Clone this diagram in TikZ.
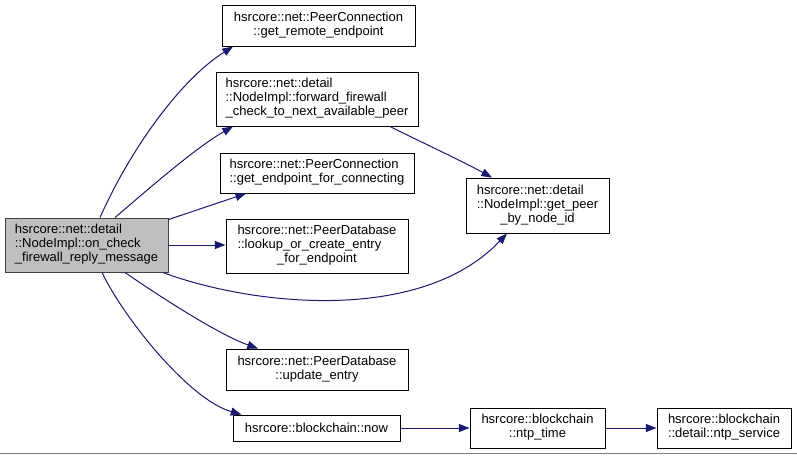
\documentclass[tikz,border=0pt]{standalone}
\usepackage{fontspec}
\setmainfont{Liberation Sans}
\usetikzlibrary{arrows.meta,calc}
\definecolor{mainfill}{RGB}{191,191,191}
\definecolor{maindraw}{RGB}{64,64,64}
\definecolor{arrowc}{RGB}{25,25,112}
\definecolor{bottomline}{RGB}{128,128,128}
\newcommand\dxLines[1]{\begin{tabular}{@{}l@{}}#1\end{tabular}}
\newcommand\dxLast[1]{\multicolumn{1}{@{}c@{}}{#1}}
\begin{document}
\begin{tikzpicture}[x=0.75pt,y=-0.75pt,
  font=\fontsize{9.75}{10.5}\selectfont,
  box/.style 2 args={draw=black, line width=0.75pt, fill=white, inner sep=0pt,
    minimum width=#1*0.75pt, minimum height=#2*0.75pt},
  edge/.style={draw=arrowc, line width=0.75pt, -{Triangle[length=8pt,width=6pt]}}]
\useasboundingbox (0,0) rectangle (797,455);
\fill[white] (0,0) rectangle (797,455);
\draw[bottomline, line width=0.75pt] (0,453) -- (797,453);

\node[box={163}{54}, fill=mainfill, draw=maindraw] (main) at (86.5,245)
  {\dxLines{hsrcore::net::detail\\::NodeImpl::on\_check\\\dxLast{\_firewall\_reply\_message}}};
\node[box={193}{41}] (gre) at (318.5,25.5)
  {\dxLines{hsrcore::net::PeerConnection\\\dxLast{::get\_remote\_endpoint}}};
\node[box={202}{54}] (ff) at (317,99)
  {\dxLines{hsrcore::net::detail\\::NodeImpl::forward\_firewall\\\dxLast{\_check\_to\_next\_available\_peer}}};
\node[box={194}{40}] (gefc) at (317,173)
  {\dxLines{hsrcore::net::PeerConnection\\\dxLast{::get\_endpoint\_for\_connecting}}};
\node[box={182}{54}] (loc) at (317,246)
  {\dxLines{hsrcore::net::PeerDatabase\\::lookup\_or\_create\_entry\\\dxLast{\_for\_endpoint}}};
\node[box={143}{55}] (gp) at (537.5,205.5)
  {\dxLines{hsrcore::net::detail\\::NodeImpl::get\_peer\\\dxLast{\_by\_node\_id}}};
\node[box={182}{41}] (ue) at (317,369.5)
  {\dxLines{hsrcore::net::PeerDatabase\\\dxLast{::update\_entry}}};
\node[box={167}{26}] (now) at (316.5,428)
  {hsrcore::blockchain::now};
\node[box={135}{40}] (nt) at (537.5,428)
  {\dxLines{hsrcore::blockchain\\\dxLast{::ntp\_time}}};
\node[box={134}{40}] (ns) at (724,428)
  {\dxLines{hsrcore::blockchain\\\dxLast{::detail::ntp\_service}}};

\draw[edge] ($(main.north)+(13.5,0)$) .. controls (130,150) and (180,80) .. ($(gre.south)+(-85.5,0)$);
\draw[edge] ($(main.north)+(28.5,0)$) .. controls (145,192) and (195,148) .. ($(ff.south)+(-84,0)$);
\draw[edge] ($(main.north east)+(0,2)$) -- ($(gefc.south)+(-71,0)$);
\draw[edge] (main.east) -- (main.east -| loc.west);
\draw[edge] ($(main.south)+(76.5,0)$) .. controls (250,305) and (420,325) .. ($(gp.south)+(-30.5,0)$);
\draw[edge] ($(ff.south)+(73,0)$) .. controls (425,144) and (460,160) .. ($(gp.north)+(-45.5,0)$);
\draw[edge] ($(main.south)+(38.5,0)$) .. controls (165,300) and (220,335) .. ($(ue.north)+(-59,0)$);
\draw[edge] ($(main.south)+(15.5,0)$) .. controls (125,320) and (190,400) .. ($(now.north)+(-75,0)$);
\draw[edge] (now.east) -- (nt.west);
\draw[edge] (nt.east) -- (ns.west);
\end{tikzpicture}
\end{document}
